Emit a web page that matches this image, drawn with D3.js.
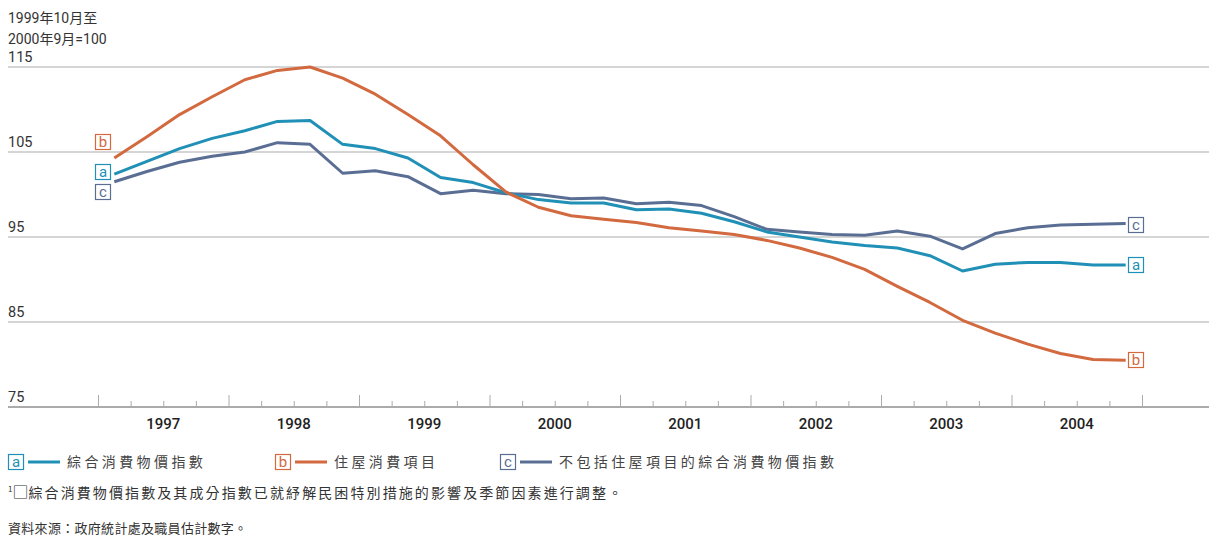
<!DOCTYPE html>
<html><head><meta charset="utf-8">
<script src="https://cdn.jsdelivr.net/npm/d3@7"></script>
<style>
html,body{margin:0;padding:0;background:#fff;}
svg{display:block;}
</style></head>
<body>
<svg id="chart" width="1209" height="537"></svg>
<script>
const years = [1997, 1998, 1999, 2000, 2001, 2002, 2003, 2004];
const quarters = years.flatMap(y => [1,2,3,4].map(q => y + "Q" + q));
const yTicks = [75, 85, 95, 105, 115];
const seriesA = [102.4,103.9,105.4,106.6,107.5,108.6,108.7,105.9,105.4,104.3,102.0,101.4,100.2,99.4,99.0,99.0,98.2,98.3,97.8,96.8,95.6,95.0,94.4,94.0,93.7,92.8,91.0,91.8,92.0,92.0,91.7,91.7];
const seriesB = [104.3,106.8,109.4,111.5,113.5,114.6,115.0,113.7,111.8,109.4,106.9,103.5,100.3,98.5,97.5,97.1,96.7,96.1,95.7,95.3,94.6,93.7,92.6,91.2,89.2,87.3,85.2,83.7,82.4,81.3,80.6,80.5];
const seriesC = [101.5,102.7,103.8,104.5,105.0,106.1,105.9,102.5,102.8,102.1,100.1,100.5,100.1,100.0,99.5,99.6,98.9,99.1,98.7,97.4,95.9,95.6,95.3,95.2,95.7,95.1,93.6,95.4,96.1,96.4,96.5,96.6];
const seriesNames = ["綜合消費物價指數", "住屋消費項目", "不包括住屋項目的綜合消費物價指數"];
const seriesKeys = ["a", "b", "c"];
const axisTitle = ["1999年10月至", "2000年9月=100"];
const footnote = "綜合消費物價指數及其成分指數已就紓解民困特別措施的影響及季節因素進行調整。";
const source = "資料來源：政府統計處及職員估計數字。";

const colors = {a: "#2190b6", b: "#d2693f", c: "#5a6e94"};
const grid = "#ababab";
const svg = d3.select("#chart");

const x = d3.scaleLinear().domain([1997, 2005]).range([98, 1142]);
const y = d3.scaleLinear().domain([75, 115]).range([407, 67]);
const qx = q => { const yr = +q.slice(0,4), n = +q.slice(5); return yr + (n - 0.5) / 4; };

// gridlines
svg.append("g").selectAll("line").data(yTicks.filter(t => t > 75)).join("line")
  .attr("x1", 8).attr("x2", 1209).attr("y1", d => y(d)).attr("y2", d => y(d))
  .attr("stroke", grid).attr("stroke-width", 1);
// y labels
svg.append("g").selectAll("text").data(yTicks).join("text")
  .attr("x", 8).attr("y", d => y(d) - 5)
  .attr("font-family", "Roboto, 'Noto Sans', sans-serif").attr("font-size", 14.5).attr("fill", "#333")
  .text(d => d);
// axis title
svg.append("g").selectAll("text").data(axisTitle).join("text")
  .attr("x", 8).attr("y", (d, i) => 23 + i * 21)
  .attr("font-family", "Roboto, 'Noto Sans CJK TC', sans-serif").attr("font-size", 14).attr("fill", "#333")
  .text(d => d);

// x axis
const majorTicks = d3.range(1997, 2006);
const minorTicks = d3.range(1997, 2005, 0.25).filter(v => v % 1 !== 0);
const xAxisMajor = d3.axisBottom(x).tickValues(majorTicks).tickSize(-12).tickFormat("");
const xAxisMinor = d3.axisBottom(x).tickValues(minorTicks).tickSize(-6).tickFormat("");
const gMaj = svg.append("g").attr("transform", `translate(0,${y(75)})`).call(xAxisMajor);
const gMin = svg.append("g").attr("transform", `translate(0,${y(75)})`).call(xAxisMinor);
[gMaj, gMin].forEach(g => { g.select(".domain").remove(); g.selectAll("line").attr("stroke", grid).attr("stroke-width", 1); });
svg.append("line").attr("x1", 8).attr("x2", 1209).attr("y1", y(75)).attr("y2", y(75))
  .attr("stroke", grid).attr("stroke-width", 2);
svg.append("g").selectAll("text").data(years).join("text")
  .attr("x", d => x(d + 0.5)).attr("y", 429).attr("text-anchor", "middle")
  .attr("font-family", "Roboto, sans-serif").attr("font-weight", 500).attr("font-size", 15).attr("fill", "#222")
  .text(d => d);

// lines
const data = {a: seriesA, b: seriesB, c: seriesC};
const line = d3.line().x((d, i) => x(qx(quarters[i]))).y(d => y(d));
["c", "a", "b"].forEach(k => {
  svg.append("path").datum(data[k]).attr("d", line)
    .attr("fill", "none").attr("stroke", colors[k]).attr("stroke-width", 3).attr("stroke-linejoin", "round");
});

function keyBox(g, k, cx, cy) {
  g.append("rect").attr("x", cx - 7.5).attr("y", cy - 7.5).attr("width", 15).attr("height", 15)
    .attr("fill", "#fff").attr("stroke", colors[k]).attr("stroke-width", 1.2);
  g.append("text").attr("x", cx).attr("y", cy + 5).attr("text-anchor", "middle")
    .attr("font-family", "Roboto, sans-serif").attr("font-size", 15).attr("fill", colors[k]).text(k);
}
// series end labels
const lab = svg.append("g");
keyBox(lab, "b", 103, 142);
keyBox(lab, "a", 103, 172);
keyBox(lab, "c", 103, 192);
keyBox(lab, "c", 1136, 225);
keyBox(lab, "a", 1136, 265);
keyBox(lab, "b", 1136, 360);

// legend
const legX = [8, 275, 500];
const leg = svg.append("g");
seriesKeys.forEach((k, i) => {
  keyBox(leg, k, legX[i] + 8, 462);
  leg.append("line").attr("x1", legX[i] + 20).attr("x2", legX[i] + 52).attr("y1", 462).attr("y2", 462)
    .attr("stroke", colors[k]).attr("stroke-width", 3);
  leg.append("text").attr("x", legX[i] + 59).attr("y", 467)
    .attr("font-family", "'Noto Sans CJK TC', sans-serif").attr("font-size", 14).attr("letter-spacing", 3.4)
    .attr("fill", "#444").text(seriesNames[i]);
});

// footnote
const fn = svg.append("text").attr("x", 8).attr("y", 498)
  .attr("font-family", "'Noto Sans CJK TC', sans-serif").attr("font-size", 14).attr("fill", "#333");
fn.append("tspan").attr("font-size", 8).attr("dy", -6).text("1");
fn.append("tspan").attr("dy", 6).attr("font-size", 16).text("□");
fn.append("tspan").attr("letter-spacing", 2.1).text(footnote);
svg.append("text").attr("x", 8).attr("y", 533)
  .attr("font-family", "'Noto Sans CJK TC', sans-serif").attr("font-size", 13).attr("letter-spacing", 0.3).attr("fill", "#333")
  .text(source);
</script>
</body></html>
